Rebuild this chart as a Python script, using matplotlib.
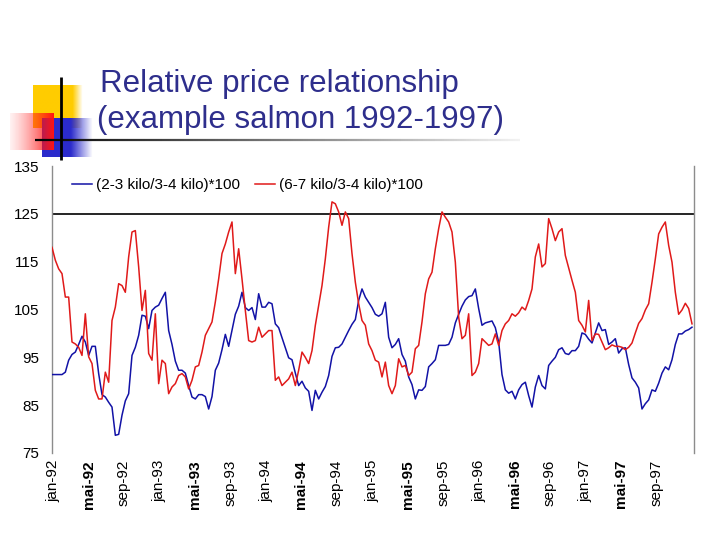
import numpy as np
import matplotlib
matplotlib.use("Agg")
import matplotlib.pyplot as plt
from matplotlib.lines import Line2D
from matplotlib.collections import LineCollection

plt.rcParams['font.family'] = ['Liberation Sans', 'DejaVu Sans']

# ---------------- data ----------------
title_lines = ["Relative price relationship", "(example salmon 1992-1997)"]
series_names = ["(2-3 kilo/3-4 kilo)*100", "(6-7 kilo/3-4 kilo)*100"]
tick_labels = ["jan-92", "mai-92", "sep-92", "jan-93", "mai-93", "sep-93",
               "jan-94", "mai-94", "sep-94", "jan-95", "mai-95", "sep-95",
               "jan-96", "mai-96", "sep-96", "jan-97", "mai-97", "sep-97"]
y_ticks = [75, 85, 95, 105, 115, 125, 135]
ref_level = 125

small_vs_mid = [
    91.4, 91.4, 91.4, 91.4, 91.9, 94.4, 95.6, 96.1, 97.7, 99.4, 98.2, 95.4, 97.3, 97.3, 91.6, 87.2,
    86.7, 85.6, 84.6, 78.7, 78.9, 82.9, 85.9, 87.4, 95.4, 97.1, 99.6, 103.8, 103.6, 101.0, 104.8,
    105.5, 105.9, 107.3, 108.6, 100.6, 97.7, 94.2, 92.3, 92.3, 91.7, 89.1, 86.7, 86.3, 87.2, 87.2, 86.8,
    84.2, 86.8, 92.3, 93.8, 96.6, 99.8, 97.3, 100.6, 104.0, 105.7, 108.6, 105.4, 104.8, 105.4, 102.9, 108.3,
    105.5, 105.5, 106.5, 106.2, 102.0, 101.2, 99.1, 97.0, 94.9, 94.5, 91.7, 89.1, 90.0, 88.6, 87.9, 83.9,
    88.1, 86.3, 87.7, 88.9, 91.2, 95.2, 97.0, 97.1, 97.8, 99.2, 100.6, 101.9, 102.9, 106.9, 109.3,
    107.6, 106.5, 105.4, 104.0, 103.6, 104.1, 106.5, 99.2, 97.0, 97.7, 98.9, 95.6, 94.2, 90.9, 89.3, 86.3,
    88.2, 88.1, 88.9, 93.0, 93.7, 94.5, 97.5, 97.5, 97.5, 97.7, 99.2, 102.2, 104.0, 105.7, 107.0, 107.7,
    107.9, 109.3, 105.2, 101.7, 102.2, 102.4, 102.6, 101.2, 98.2, 91.4, 88.2, 87.5, 87.9, 86.3, 88.2, 89.3,
    89.8, 87.0, 84.6, 88.8, 91.2, 89.1, 88.4, 93.3, 94.2, 95.0, 96.6, 97.0, 95.8, 95.6, 96.4,
    96.4, 97.3, 100.1, 99.8, 98.8, 98.0, 100.1, 102.2, 100.6, 100.8, 97.7, 98.2, 98.9, 95.9, 96.8, 97.0,
    93.5, 90.7, 89.8, 88.6, 84.2, 85.3, 86.1, 88.2, 87.9, 89.6, 91.7, 93.0, 92.4, 94.5, 97.7, 99.9,
    99.9, 100.5, 100.8, 101.3,
]

large_vs_mid = [
    118.0, 115.3, 113.5, 112.5, 107.6, 107.6, 98.2, 97.8, 97.1, 95.4, 104.1, 95.1, 93.7, 88.1, 86.3, 86.3,
    91.9, 89.8, 102.7, 105.5, 110.4, 110.0, 108.6, 116.0, 121.2, 121.5, 113.9, 104.8, 109.0, 95.8, 94.4,
    104.1, 89.5, 94.4, 93.7, 87.4, 88.8, 89.5, 91.2, 91.6, 90.9, 88.4, 90.2, 93.0, 93.3, 96.1, 99.6,
    101.0, 102.4, 106.6, 111.4, 116.7, 118.7, 121.2, 123.3, 112.5, 117.7, 111.4, 104.8, 98.5, 98.2, 98.5, 101.3,
    99.2, 99.9, 100.6, 100.6, 90.2, 90.9, 89.1, 89.8, 90.5, 91.9, 89.1, 92.3, 96.1, 95.0, 93.7, 96.4,
    101.7, 105.9, 110.0, 115.6, 122.2, 127.5, 127.1, 125.4, 122.6, 125.4, 124.0, 116.7, 110.7, 106.2, 102.7,
    101.7, 97.8, 96.4, 94.4, 94.0, 90.9, 94.0, 89.1, 87.4, 89.1, 94.7, 93.0, 93.3, 91.2, 91.9, 96.8,
    97.5, 102.4, 108.3, 111.4, 112.8, 117.7, 121.9, 125.4, 124.3, 123.3, 121.2, 114.9, 103.4, 98.9, 99.6, 104.1,
    91.2, 91.9, 93.7, 98.9, 98.2, 97.5, 97.8, 99.9, 97.5, 100.6, 102.0, 102.7, 104.1, 103.6, 104.3, 105.5,
    104.9, 106.9, 109.3, 116.0, 118.7, 113.9, 114.6, 124.0, 121.9, 119.4, 121.2, 121.9, 116.3, 113.7, 111.1,
    108.6, 102.7, 101.7, 100.3, 106.9, 98.5, 99.9, 99.8, 98.2, 96.6, 97.0, 97.6, 97.3, 97.3, 97.1, 96.6,
    97.1, 98.0, 100.1, 102.1, 103.1, 104.9, 106.2, 110.7, 115.6, 120.8, 122.2, 123.3, 118.4, 114.9, 108.6, 104.0,
    104.9, 106.3, 105.2, 102.0,
]

# ---------------- figure ----------------
W, H = 720, 540
fig = plt.figure(figsize=(W / 100, H / 100), dpi=100)
fig.patch.set_facecolor("white")

# decorative slide logo (pixel coordinates overlay)
deco = fig.add_axes([0, 0, 1, 1], zorder=0)
deco.axis("off")


def grad_img(rgb, alphas):
    a = np.array(alphas)[None, :]
    img = np.zeros((2, a.shape[1], 4))
    img[..., 0], img[..., 1], img[..., 2] = rgb
    img[..., 3] = np.repeat(a, 2, axis=0)
    return img

n = 60
yel_alpha = np.clip((83 - np.linspace(33, 83, n)) / 10.0, 0, 1)
deco.imshow(grad_img((1.0, 0.80, 0.0), yel_alpha), extent=(33, 83, 128, 85),
            aspect="auto", interpolation="bilinear")
blu_alpha = np.clip((93 - np.linspace(42, 93, n)) / 22.0, 0, 1)
deco.imshow(grad_img((0.17, 0.17, 0.80), blu_alpha), extent=(42, 93, 157, 118),
            aspect="auto", interpolation="bilinear")
red_alpha = np.clip(np.linspace(0.15, 1.0, n) ** 1.5, 0, 1)
deco.imshow(grad_img((1.0, 0.08, 0.08), red_alpha), extent=(10, 54, 150, 113),
            aspect="auto", interpolation="bilinear")

xs = np.linspace(35, 520, 200)
segs = [[(xs[i], 140), (xs[i + 1], 140)] for i in range(len(xs) - 1)]
shade = np.linspace(0.0, 0.95, len(segs))
deco.add_collection(LineCollection(segs, colors=[(s, s, s) for s in shade], linewidths=1.6))
deco.plot([61, 61], [77, 160], color="black", lw=2.0, solid_capstyle="butt")
deco.set_xlim(0, W)
deco.set_ylim(H, 0)

title_color = "#2E2E8C"
fig.text(100 / W, 1 - 92 / H, title_lines[0], fontsize=22.5, color=title_color,
         va="baseline", ha="left")
fig.text(97 / W, 1 - 128 / H, title_lines[1], fontsize=22.5, color=title_color,
         va="baseline", ha="left")

# chart
ax = fig.add_axes([52 / W, (H - 453) / H, (694 - 52) / W, (453 - 166) / H], zorder=2)
ax.set_facecolor("none")
x = np.arange(len(small_vs_mid))
blue = "#1212A6"
red = "#E01A1A"
ax.plot(x, small_vs_mid, color=blue, lw=1.1, zorder=3)
ax.plot(x, large_vs_mid, color=red, lw=1.1, zorder=3)
ax.axhline(ref_level, color="black", lw=1.2, zorder=2)

ax.set_ylim(y_ticks[0], y_ticks[-1])
ax.set_xlim(0, 192.6)
for s in ("top", "bottom"):
    ax.spines[s].set_visible(False)
for s in ("left", "right"):
    ax.spines[s].set_color("#8C8C8C")
    ax.spines[s].set_linewidth(1.0)

ax.set_yticks(y_ticks)
ax.set_yticklabels([str(v) for v in y_ticks], fontsize=11)
ax.tick_params(axis="y", length=0, pad=9)

tick_pos = [0.3 + 10.65 * k for k in range(len(tick_labels))]
ax.set_xticks(tick_pos)
ax.set_xticklabels(tick_labels, rotation=90, fontsize=11)
for lab in ax.get_xticklabels():
    if lab.get_text().startswith("mai"):
        lab.set_fontweight("bold")
ax.tick_params(axis="x", length=0, pad=5)

handles = [Line2D([], [], color=blue, lw=1.1), Line2D([], [], color=red, lw=1.1)]
ax.legend(handles, series_names, ncol=2, loc="upper left",
          bbox_to_anchor=((72 - 52) / 642, (453 - 178) / 287), frameon=False,
          fontsize=11, handlelength=1.3, handletextpad=0.25, columnspacing=1.0,
          borderpad=0, borderaxespad=0)

fig.savefig("out.png", dpi=100, facecolor="white")
